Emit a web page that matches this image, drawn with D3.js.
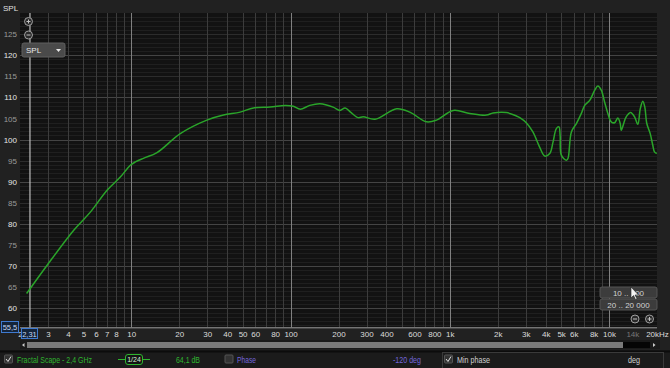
<html>
<head>
<script src="https://cdn.jsdelivr.net/npm/d3@7"></script>
<style>
  body { margin: 0; background: #202020; }
  svg { display: block; font-family: "Liberation Sans", "DejaVu Sans", sans-serif; }
</style>
</head>
<body>
<svg id="svg" width="670" height="368"></svg>
<script>
// measured response (Hz, dB)
var freqs = [2.2, 2.32, 2.96, 4.35, 5.53, 7.04, 8.53, 9.86, 10.6, 12.0, 14.5, 20.3, 29.8, 37.9, 48.2, 58.5, 74.5, 92.5, 104, 115, 132, 153, 185, 204, 220, 238, 266, 286, 339, 464, 561, 714, 824, 1050, 1335, 1698, 1870, 2265, 2618, 2750, 3020, 3325, 3664, 3941, 4240, 4447, 4667, 4845, 4930, 5015, 5400, 5520, 5800, 6235, 6700, 7030, 7560, 8130, 8510, 8935, 9370, 9830, 10320, 10830, 11360, 11750, 11930, 12690, 13180, 13640, 14450, 15160, 15700, 16290, 16770, 17260, 18130, 18830, 19280, 19940];
var spl   = [63.5, 64.7, 70.2, 78.5, 82.8, 88.0, 91.1, 93.9, 94.7, 95.6, 96.9, 101.4, 104.6, 105.8, 106.5, 107.5, 107.7, 108.1, 107.9, 107.2, 108.1, 108.5, 107.7, 106.9, 107.5, 106.5, 105.2, 105.4, 104.8, 107.3, 106.5, 104.2, 104.6, 106.9, 106.2, 105.8, 106.3, 106.4, 105.6, 105.2, 104.0, 101.8, 98.2, 96.1, 96.7, 99.4, 102.6, 103.0, 101.0, 96.3, 95.1, 95.5, 101.8, 103.8, 106.2, 108.1, 109.3, 111.7, 112.7, 111.7, 108.9, 106.2, 104.2, 104.0, 105.1, 103.8, 102.2, 105.1, 106.0, 106.4, 105.4, 103.6, 107.3, 109.1, 107.7, 103.8, 101.4, 98.6, 97.1, 96.7];

var xTicks = [2, 3, 4, 5, 6, 7, 8, 10, 20, 30, 40, 50, 60, 80, 100, 200, 300, 400, 600, 800, 1000, 2000, 3000, 4000, 5000, 6000, 8000, 10000, 14000, 20000];
var xTickLabels = ["2", "3", "4", "5", "6", "7", "8", "10", "20", "30", "40", "50", "60", "80", "100", "200", "300", "400", "600", "800", "1k", "2k", "3k", "4k", "5k", "6k", "8k", "10k", "14k", "20kHz"];
var yTicks = [60, 65, 70, 75, 80, 85, 90, 95, 100, 105, 110, 115, 120, 125];

var svg = d3.select("svg");
var plotL = 20, plotR = 657, plotT = 13, plotB = 327.3;

var x = d3.scaleLog().domain([2, 20000]).range([plotL, plotR]);
var y = d3.scaleLinear().domain([55.5, 130]).range([plotB, plotT]);

// panel backgrounds
svg.append("rect").attr("x", 0).attr("y", 0).attr("width", 670).attr("height", 368).attr("fill", "#212121");
svg.append("rect").attr("x", plotL).attr("y", plotT).attr("width", plotR - plotL).attr("height", plotB - plotT).attr("fill", "#121212");

var grid = svg.append("g");
// fine horizontal lines every 1 dB
d3.range(56, 130).forEach(function(v){
    var c = v % 10 == 0 ? "#444" : (v % 5 == 0 ? "#2c2c2c" : "#1f1f1f");
    grid.append("line").attr("x1", plotL).attr("x2", plotR).attr("y1", Math.round(y(v)) + 0.5).attr("y2", Math.round(y(v)) + 0.5)
        .attr("stroke", c).attr("stroke-width", 1);
});
// vertical log lines
var vlines = [];
[1, 10, 100, 1000, 10000].forEach(function(d){
    for (var m = 1; m < 10; m++) { var f = d * m; if (f > 2 && f < 20000) vlines.push(f); }
});
vlines.forEach(function(f){
    var dec = Math.abs(Math.log10(f) % 1) < 1e-9;
    grid.append("line").attr("x1", Math.round(x(f)) + 0.5).attr("x2", Math.round(x(f)) + 0.5).attr("y1", plotT).attr("y2", plotB)
        .attr("stroke", dec ? "#808080" : "#3c3c3c").attr("stroke-width", 1);
});
// bottom border of plot
svg.append("line").attr("x1", plotL).attr("x2", plotR).attr("y1", plotB + 0.5).attr("y2", plotB + 0.5).attr("stroke", "#9a9a9a");
// cursor line
svg.append("line").attr("x1", x(2.31)).attr("x2", x(2.31)).attr("y1", plotT).attr("y2", plotB).attr("stroke", "#bdbdbd").attr("stroke-width", 1.2);

// response curve
var line = d3.line().x(function(d){ return x(d[0]); }).y(function(d){ return y(d[1]); }).curve(d3.curveCatmullRom.alpha(0.5));
svg.append("path").datum(d3.zip(freqs, spl)).attr("d", line)
    .attr("fill", "none").attr("stroke", "#2aa52a").attr("stroke-width", 1.5);

// axes
var yAxis = svg.append("g").attr("transform", "translate(17,0)")
    .call(d3.axisLeft(y).tickValues(yTicks).tickSize(0).tickPadding(0));
yAxis.select(".domain").remove();
yAxis.selectAll("text").attr("font-size", 8).attr("fill", function(d){ return d % 10 == 0 ? "#e6e6e6" : "#9a9a9a"; })
    .attr("font-family", "Liberation Sans");

var xAxis = svg.append("g").attr("transform", "translate(0," + (plotB + 2) + ")")
    .call(d3.axisBottom(x).tickValues(xTicks).tickSize(0).tickPadding(2)
        .tickFormat(function(d, i){ return xTickLabels[i]; }));
xAxis.select(".domain").remove();
xAxis.selectAll("text").attr("font-size", 8).attr("font-family", "Liberation Sans")
    .attr("fill", function(d){ return d == 14000 ? "#777" : "#dcdcdc"; });

// title
svg.append("text").attr("x", 3).attr("y", 11).text("SPL").attr("font-size", 8).attr("fill", "#e0e0e0");

// zoom circles top-left
[[28.5, 21.5, "+"], [28.5, 35, "−"]].forEach(function(c){
    svg.append("circle").attr("cx", c[0]).attr("cy", c[1]).attr("r", 4).attr("fill", "#2a2a2a").attr("stroke", "#a0a0a0");
    svg.append("line").attr("x1", c[0] - 2).attr("x2", c[0] + 2).attr("y1", c[1]).attr("y2", c[1]).attr("stroke", "#c0c0c0");
    if (c[2] == "+") svg.append("line").attr("x1", c[0]).attr("x2", c[0]).attr("y1", c[1] - 2).attr("y2", c[1] + 2).attr("stroke", "#c0c0c0");
});

// SPL dropdown
svg.append("rect").attr("x", 22).attr("y", 43).attr("width", 43).attr("height", 14).attr("rx", 2)
    .attr("fill", "#4a4a4a").attr("stroke", "#5e5e5e");
svg.append("text").attr("x", 26).attr("y", 53).text("SPL").attr("font-size", 8).attr("fill", "#e8e8e8");
svg.append("path").attr("d", "M56,49 L61,49 L58.5,52 Z").attr("fill", "#e8e8e8");

// cursor value boxes
svg.append("rect").attr("x", 1.5).attr("y", 321.5).attr("width", 17).attr("height", 11).attr("fill", "#14243a").attr("stroke", "#3f7ad0");
svg.append("text").attr("x", 10).attr("y", 330).attr("text-anchor", "middle").text("55,5").attr("font-size", 7.5).attr("fill", "#c8d8f0");
svg.append("rect").attr("x", 21.5).attr("y", 328.5).attr("width", 16).attr("height", 10).attr("fill", "#14243a").attr("stroke", "#3f7ad0");
svg.append("text").attr("x", 29.5).attr("y", 336.5).attr("text-anchor", "middle").text("2,31").attr("font-size", 7.5).attr("fill", "#c8d8f0");

// range buttons
[[287, "10 .. 200"], [299, "20 .. 20 000"]].forEach(function(b){
    svg.append("rect").attr("x", 600).attr("y", b[0]).attr("width", 57).attr("height", 11).attr("rx", 2)
        .attr("fill", "#3c3c3c").attr("stroke", "#555");
    svg.append("text").attr("x", 628.5).attr("y", b[0] + 8.5).attr("text-anchor", "middle").text(b[1]).attr("font-size", 8).attr("fill", "#d2d2d2");
});
// mouse pointer
svg.append("path").attr("d", "M631,287 L631,298 L633.5,295.5 L635.5,299.5 L637,298.8 L635,295 L638.5,295 Z")
    .attr("fill", "#f4f4f4").attr("stroke", "#222").attr("stroke-width", 0.6);
[[635, 319, "−"], [649.5, 319, "+"]].forEach(function(c){
    svg.append("circle").attr("cx", c[0]).attr("cy", c[1]).attr("r", 4).attr("fill", "#2a2a2a").attr("stroke", "#a0a0a0");
    svg.append("line").attr("x1", c[0] - 2).attr("x2", c[0] + 2).attr("y1", c[1]).attr("y2", c[1]).attr("stroke", "#c0c0c0");
    if (c[2] == "+") svg.append("line").attr("x1", c[0]).attr("x2", c[0]).attr("y1", c[1] - 2).attr("y2", c[1] + 2).attr("stroke", "#c0c0c0");
});

// scrollbar
svg.append("rect").attr("x", 20).attr("y", 340).attr("width", 640).attr("height", 9).attr("fill", "#1a1a1a");
svg.append("rect").attr("x", 27).attr("y", 342).attr("width", 596).attr("height", 6).attr("fill", "#7a7a7a");
svg.append("rect").attr("x", 623).attr("y", 342).attr("width", 27).attr("height", 6).attr("fill", "#050505");
svg.append("path").attr("d", "M24.5,343 L24.5,347 L22,345 Z").attr("fill", "#ccc");
svg.append("path").attr("d", "M653,343 L653,347 L655.5,345 Z").attr("fill", "#ccc");

// legend row
svg.append("rect").attr("x", 0).attr("y", 350).attr("width", 670).attr("height", 18).attr("fill", "#1b1b1b");
svg.append("line").attr("x1", 0).attr("x2", 670).attr("y1", 351.5).attr("y2", 351.5).attr("stroke", "#0c0c0c").attr("stroke-width", 2);
function checkbox(cx, checked){
    svg.append("rect").attr("x", cx).attr("y", 355).attr("width", 8).attr("height", 8).attr("rx", 1)
        .attr("fill", "#333").attr("stroke", "#555");
    if (checked) svg.append("path").attr("d", "M" + (cx + 1.5) + ",359 L" + (cx + 3.5) + ",361.5 L" + (cx + 6.5) + ",356.5")
        .attr("fill", "none").attr("stroke", "#e0e0e0").attr("stroke-width", 1);
}
function label(tx, txt, col, len){
    var t = svg.append("text").attr("x", tx).attr("y", 362.5).text(txt).attr("font-size", 9).attr("fill", col);
    if (len) t.attr("textLength", len).attr("lengthAdjust", "spacingAndGlyphs");
}
checkbox(4.5, true);
label(17, "Fractal Scape - 2,4 GHz", "#2fb52f", 75);
svg.append("line").attr("x1", 118).attr("x2", 150).attr("y1", 359.5).attr("y2", 359.5).attr("stroke", "#2fb52f");
svg.append("rect").attr("x", 125.5).attr("y", 354.5).attr("width", 17).attr("height", 10).attr("rx", 2.5)
    .attr("fill", "#141414").attr("stroke", "#2fb52f");
svg.append("text").attr("x", 134).attr("y", 362).attr("text-anchor", "middle").text("1/24").attr("font-size", 7).attr("fill", "#d8f0d8");
label(176, "64,1 dB", "#2fb52f", 24);
checkbox(225, false);
label(237, "Phase", "#7466dc", 19);
label(393, "-120 deg", "#7466dc", 28);
svg.append("rect").attr("x", 442.5).attr("y", 352.5).attr("width", 221).attr("height", 16).attr("fill", "none").attr("stroke", "#3a3a3a");
checkbox(444.5, true);
label(457, "Min phase", "#d0d0d0", 33);
label(628, "deg", "#d0d0d0", 12);
</script>
</body>
</html>
